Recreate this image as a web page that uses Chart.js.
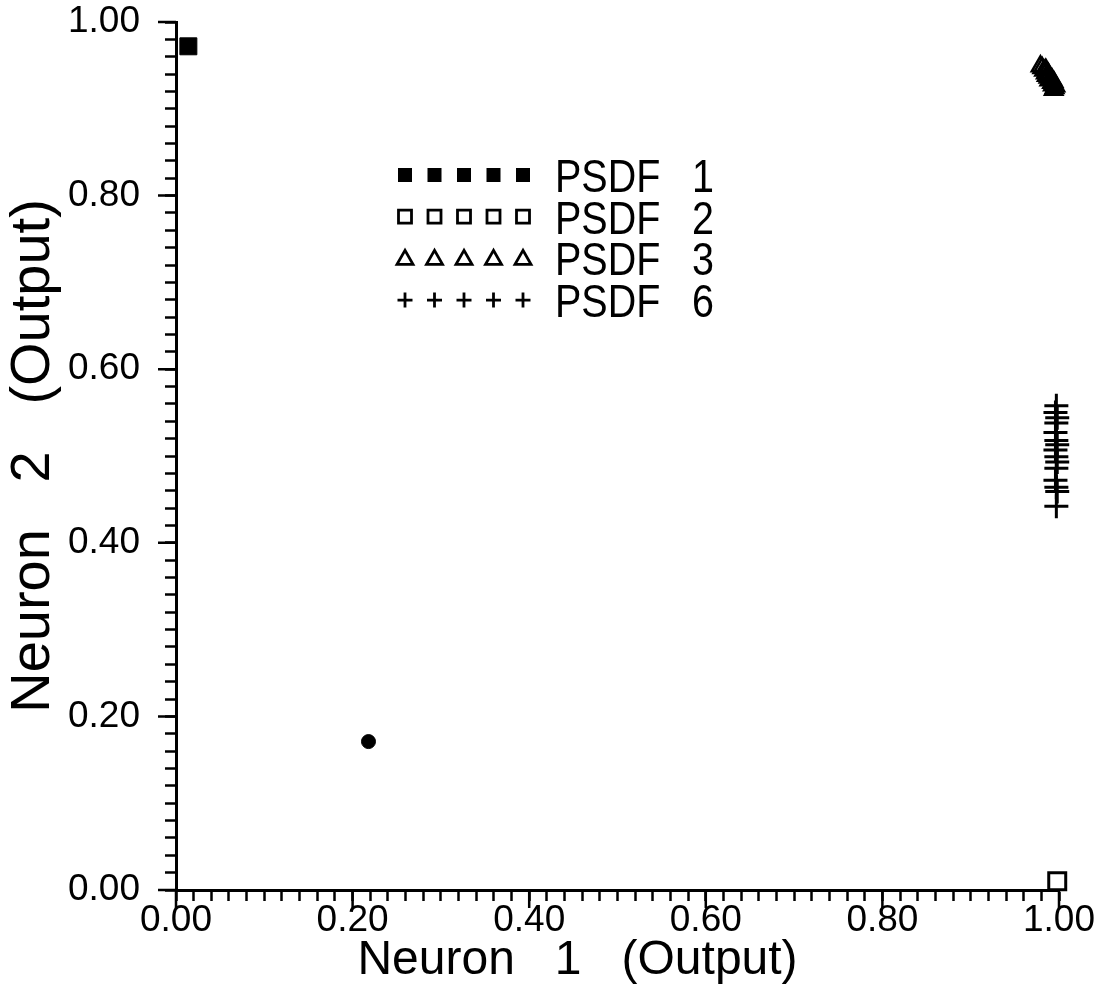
<!DOCTYPE html>
<html lang="en">
<head>
    <meta charset="UTF-8">
    <title>Neuron 1 / Neuron 2 output</title>
    <script src="https://cdn.jsdelivr.net/npm/chart.js"></script>
    <style>
        html, body { margin: 0; padding: 0; background: #fff; }
        #wrap { width: 1094px; height: 1006px; position: relative; }
    </style>
</head>
<body>
    <div id="wrap"><canvas id="neuronChart"></canvas></div>

    <script>
        // output pairs per class
        const psdf1X = [0.014, 0.218];
        const psdf1Y = [0.972, 0.171];

        const psdf2X = [0.998];
        const psdf2Y = [0.010];

        const psdf3X = [0.979, 0.981, 0.983, 0.985, 0.985, 0.986, 0.988, 0.988, 0.989, 0.992, 0.992, 0.993, 0.994, 0.995, 0.996, 0.994];
        const psdf3Y = [0.949, 0.947, 0.944, 0.945, 0.941, 0.938, 0.940, 0.936, 0.933, 0.934, 0.930, 0.927, 0.931, 0.924, 0.926, 0.922];

        const psdf6X = [0.997, 0.996, 0.998, 0.997, 0.996, 0.997, 0.998, 0.996, 0.997, 0.998, 0.997, 0.996, 0.997, 0.998, 0.997];
        const psdf6Y = [0.558, 0.550, 0.544, 0.538, 0.527, 0.518, 0.513, 0.507, 0.499, 0.493, 0.486, 0.472, 0.464, 0.459, 0.442];

        const seriesLabels = ['PSDF 1', 'PSDF 2', 'PSDF 3', 'PSDF 6'];
        const majorTicks = [0, 0.2, 0.4, 0.6, 0.8, 1.0];

        const xTitle = 'Neuron   1   (Output)      ';
        const yTitle = 'Neuron   2   (Output)';

        const FONT = '"Liberation Sans", Arial, sans-serif';

        function toPoints(xs, ys) {
            return xs.map((x, i) => ({ x: x, y: ys[i] }));
        }

        function majorLabel(v) {
            return majorTicks.some(m => Math.abs(m - v) < 1e-6) ? v.toFixed(2) : '';
        }

        // longer ticks at the labelled values
        const majorTickMarks = {
            id: 'majorTickMarks',
            afterDraw(chart) {
                const { ctx, chartArea: a } = chart;
                const x = chart.scales.x, y = chart.scales.y;
                ctx.save();
                ctx.strokeStyle = '#000';
                ctx.lineWidth = 2.5;
                ctx.beginPath();
                majorTicks.forEach(v => {
                    const px = x.getPixelForValue(v);
                    ctx.moveTo(px, a.bottom);
                    ctx.lineTo(px, a.bottom + 18);
                    const py = y.getPixelForValue(v);
                    ctx.moveTo(a.left, py);
                    ctx.lineTo(a.left - 18, py);
                });
                ctx.stroke();
                ctx.restore();
            }
        };

        // legend: five markers then the class name
        const legendStyles = ['filled', 'square', 'triangle', 'plus'];

        function drawMark(ctx, style, x, y) {
            ctx.beginPath();
            if (style === 'filled') {
                ctx.fillRect(x - 7, y - 7, 14, 14);
                return;
            }
            if (style === 'square') {
                ctx.rect(x - 6.5, y - 6.5, 13, 13);
            } else if (style === 'triangle') {
                ctx.moveTo(x, y - 8);
                ctx.lineTo(x - 8, y + 6);
                ctx.lineTo(x + 8, y + 6);
                ctx.closePath();
            } else {
                ctx.moveTo(x - 7.5, y);
                ctx.lineTo(x + 7.5, y);
                ctx.moveTo(x, y - 7.5);
                ctx.lineTo(x, y + 7.5);
            }
            ctx.stroke();
        }

        const psdfLegend = {
            id: 'psdfLegend',
            afterDatasetsDraw(chart) {
                const ctx = chart.ctx;
                ctx.save();
                ctx.strokeStyle = '#000';
                ctx.fillStyle = '#000';
                ctx.lineWidth = 2.8;
                ctx.font = '47px ' + FONT;
                ctx.textBaseline = 'alphabetic';
                seriesLabels.forEach((label, i) => {
                    const y = 175 + i * 41.7;
                    for (let k = 0; k < 5; k++) {
                        drawMark(ctx, legendStyles[i], 405 + k * 29.5, y);
                    }
                    const parts = label.split(' ');
                    ctx.save();
                    ctx.translate(555, y + 17);
                    ctx.scale(0.84, 1);
                    ctx.fillText(parts[0], 0, 0);
                    ctx.restore();
                    ctx.save();
                    ctx.translate(692, y + 17);
                    ctx.scale(0.84, 1);
                    ctx.fillText(parts[1], 0, 0);
                    ctx.restore();
                });
                ctx.restore();
            }
        };

        const ctx = document.getElementById('neuronChart').getContext('2d');
        const neuronChart = new Chart(ctx, {
            type: 'scatter',
            data: {
                datasets: [
                    {
                        label: seriesLabels[0],
                        data: toPoints(psdf1X, psdf1Y),
                        pointStyle: ['rect', 'circle'],
                        pointRadius: [12, 7],
                        backgroundColor: '#000',
                        borderColor: '#000',
                        borderWidth: 1,
                        clip: false
                    },
                    {
                        label: seriesLabels[1],
                        data: toPoints(psdf2X, psdf2Y),
                        pointStyle: 'rect',
                        pointRadius: 12,
                        backgroundColor: 'rgba(0,0,0,0)',
                        borderColor: '#000',
                        borderWidth: 3,
                        clip: false
                    },
                    {
                        label: seriesLabels[2],
                        data: toPoints(psdf3X, psdf3Y),
                        pointStyle: 'triangle',
                        pointRadius: 10,
                        backgroundColor: 'rgba(0,0,0,0)',
                        borderColor: '#000',
                        borderWidth: 2.5,
                        clip: false
                    },
                    {
                        label: seriesLabels[3],
                        data: toPoints(psdf6X, psdf6Y),
                        pointStyle: 'cross',
                        pointRadius: 12,
                        borderColor: '#000',
                        borderWidth: 3,
                        clip: false
                    }
                ]
            },
            options: {
                responsive: true,
                maintainAspectRatio: false,
                animation: false,
                events: [],
                layout: { padding: { top: 22, right: 35, bottom: 0, left: 0 } },
                plugins: {
                    legend: { display: false },
                    tooltip: { enabled: false }
                },
                scales: {
                    x: {
                        type: 'linear',
                        min: 0,
                        max: 1,
                        afterFit(s) {
                            s.height = 116;
                            s.paddingLeft = 0;
                            s.paddingRight = 0;
                        },
                        border: { display: true, color: '#000', width: 3 },
                        grid: { drawOnChartArea: false, drawTicks: true, tickLength: 11, tickColor: '#000', tickWidth: 2.5 },
                        ticks: {
                            stepSize: 0.02,
                            autoSkip: false,
                            maxRotation: 0,
                            padding: -2,
                            color: '#000',
                            font: { family: FONT, size: 37 },
                            callback: v => majorLabel(v)
                        },
                        title: {
                            display: true,
                            text: xTitle,
                            color: '#000',
                            font: { family: FONT, size: 48 },
                            padding: { top: 0, bottom: 16 }
                        }
                    },
                    y: {
                        type: 'linear',
                        min: 0,
                        max: 1,
                        afterFit(s) {
                            s.width = 176;
                            s.paddingTop = 0;
                            s.paddingBottom = 0;
                        },
                        border: { display: true, color: '#000', width: 3 },
                        grid: { drawOnChartArea: false, drawTicks: true, tickLength: 11, tickColor: '#000', tickWidth: 2.5 },
                        ticks: {
                            stepSize: 0.02,
                            autoSkip: false,
                            padding: 25,
                            color: '#000',
                            font: { family: FONT, size: 37 },
                            callback: v => majorLabel(v)
                        },
                        title: {
                            display: true,
                            text: yTitle,
                            color: '#000',
                            font: { family: FONT, size: 56 },
                            padding: { top: 0, bottom: 0 }
                        }
                    }
                }
            },
            plugins: [majorTickMarks, psdfLegend]
        });
    </script>
</body>
</html>
